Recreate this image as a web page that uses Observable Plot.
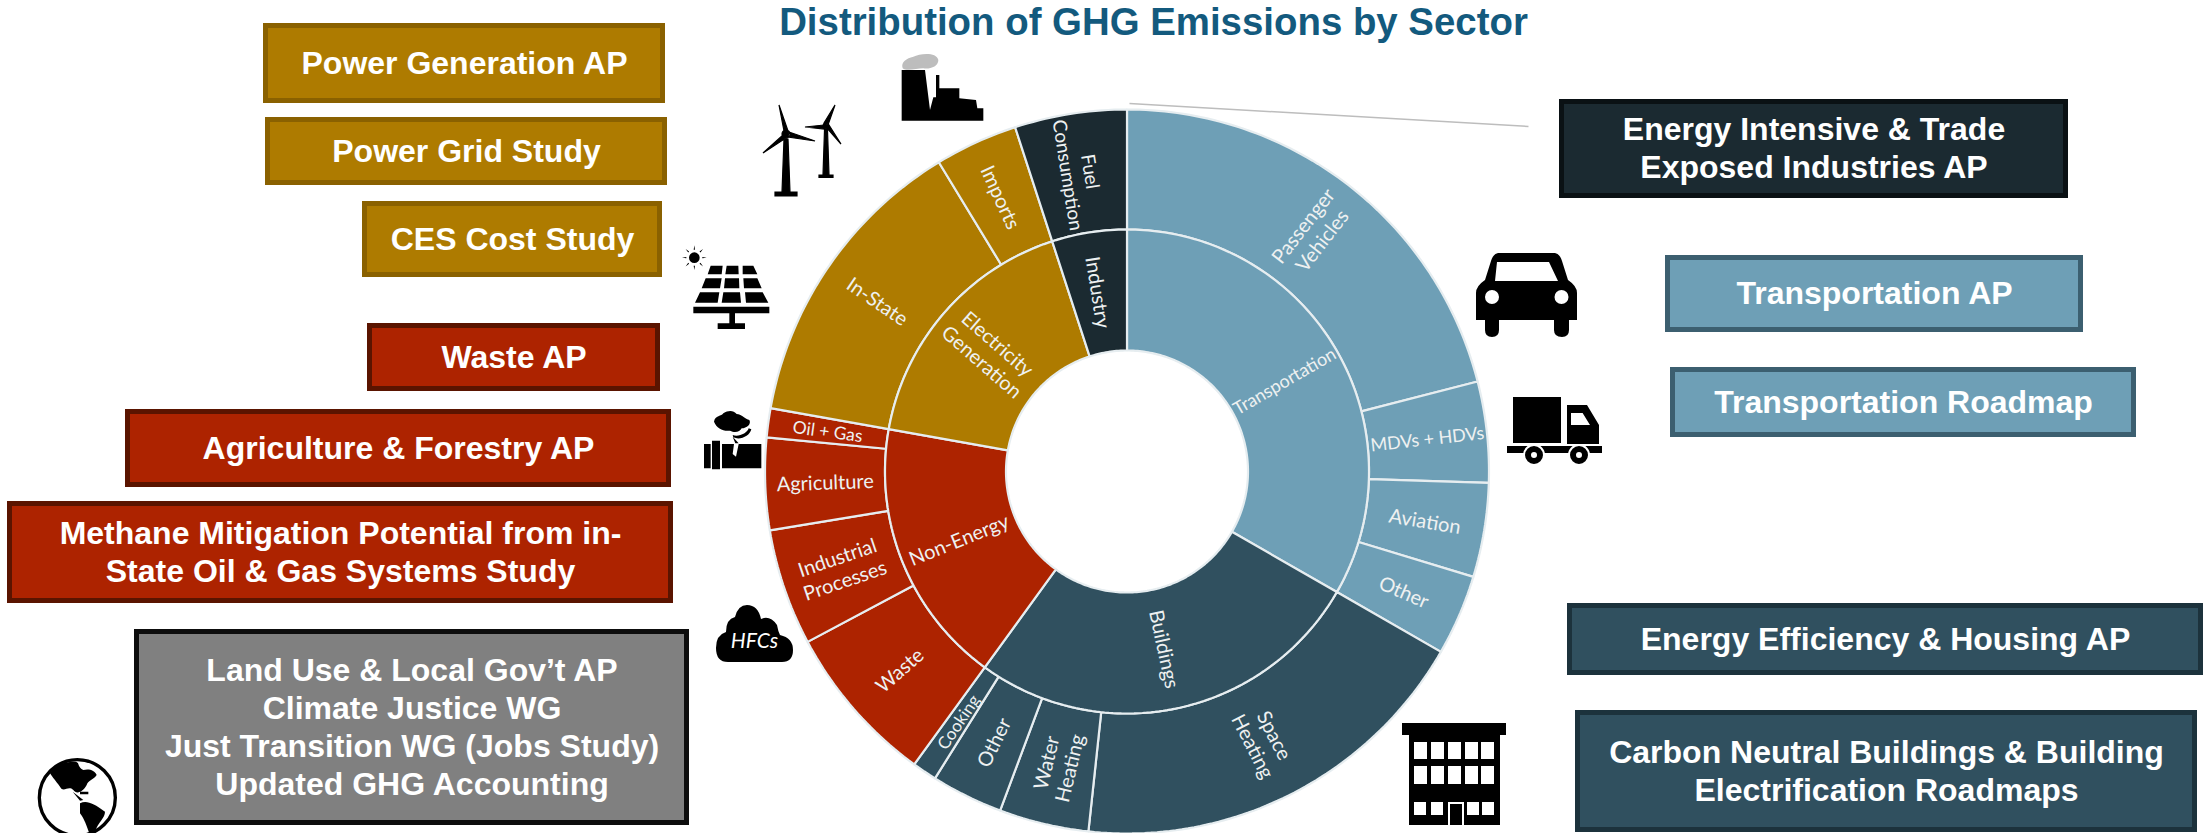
<!DOCTYPE html>
<html><head><meta charset="utf-8">
<script src="https://cdn.jsdelivr.net/npm/d3@7"></script>
<script src="https://cdn.jsdelivr.net/npm/@observablehq/plot@0.6"></script>
<style>html,body{margin:0;padding:0;background:#fff;overflow:hidden}svg{display:block}</style>
</head><body><div id="chart"></div>
<script>
// ---------- Data: share of GHG emissions (percent) ----------
const sectorNames = ["Transportation", "Buildings", "Non-Energy", "Electricity\nGeneration", "Industry"];
const transportNames = ["Passenger\nVehicles", "MDVs + HDVs", "Aviation", "Other"];
const transportValues = [21.0, 4.5, 4.2, 3.6];
const buildingNames = ["Space\nHeating", "Water\nHeating", "Other", "Cooking"];
const buildingValues = [18.4, 4.0, 3.2, 1.1];
const nonEnergyNames = ["Waste", "Industrial\nProcesses", "Agriculture", "Oil + Gas"];
const nonEnergyValues = [7.2, 5.2, 4.1, 1.3];
const electricityNames = ["In-State", "Imports"];
const electricityValues = [13.5, 3.7];
const industryNames = ["Fuel\nConsumption"];
const industryValues = [5.0];
const labelSizeOverrides = new Map([["MDVs + HDVs", 18], ["Oil + Gas", 17.5], ["Cooking", 17], ["Transportation", 18], ["Fuel\nConsumption", 19]]);

// ---------- Colours ----------
const sectorColors = ["#6e9fb6", "#30505f", "#ad2300", "#ae7b00", "#1b2a31"];
const separatorColor = "#e6edf0";
const ringLabelColor = "#eef1f1";

// ---------- Action-plan boxes ----------
const boxLabels = [
  "Power Generation AP", "Power Grid Study", "CES Cost Study", "Waste AP", "Agriculture & Forestry AP",
  "Methane Mitigation Potential from in-\nState Oil & Gas Systems Study",
  "Land Use & Local Gov’t AP\nClimate Justice WG\nJust Transition WG (Jobs Study)\nUpdated GHG Accounting",
  "Energy Intensive & Trade\nExposed Industries AP", "Transportation AP", "Transportation Roadmap",
  "Energy Efficiency & Housing AP", "Carbon Neutral Buildings & Building\nElectrification Roadmaps"
];
const boxFills = ["#ae7b00","#ae7b00","#ae7b00","#ad2300","#ad2300","#ad2300","#808080","#1b2a31","#6e9fb6","#6e9fb6","#30505f","#30505f"];
const boxBorders = ["#8a6100","#8a6100","#8a6100","#5a1400","#5a1400","#5a1400","#0d0d0d","#0a1114","#3c5f70","#3c5f70","#1c323c","#1c323c"];

// ---------- Layout (canvas is addressed in pixels) ----------
const W = 2203, H = 833, CX = 1126.5, CY = 471;
const R0 = 121, R1 = 242, R2 = 362;
const boxFrames = [
  [263,665,23,103],[265,667,117,185],[362,662,201,277],[367,660,323,391],[125,671,409,487],
  [7,673,501,603],[134,689,629,825],[1559,2068,99,198],[1665,2083,255,332],[1670,2136,367,437],
  [1567,2203,603,675],[1575,2197,710,832]
];
const boxes = boxLabels.map((label, i) => ({
  label, fill: boxFills[i], stroke: boxBorders[i],
  x1: boxFrames[i][0], x2: boxFrames[i][1], y1: boxFrames[i][2], y2: boxFrames[i][3]
}));

// ---------- Sunburst geometry from the values ----------
const groups = [
  [transportNames, transportValues], [buildingNames, buildingValues],
  [nonEnergyNames, nonEnergyValues], [electricityNames, electricityValues], [industryNames, industryValues]
];
const deg = v => v * 3.6;
const polar = (a, r) => ({x: CX + r * Math.sin(a * Math.PI / 180), y: CY - r * Math.cos(a * Math.PI / 180)});
function wedge(id, a0, a1, r0, r1, color) {
  const n = Math.max(2, Math.ceil(a1 - a0));
  const outer = d3.range(n + 1).map(i => polar(a0 + (a1 - a0) * i / n, r1));
  const inner = d3.range(n, -1, -1).map(i => polar(a0 + (a1 - a0) * i / n, r0));
  return [...outer, ...inner, outer[0]].map(p => ({...p, id, color}));
}
function ringLabel(text, a0, a1, r0, r1) {
  const mid = (a0 + a1) / 2, p = polar(mid, (r0 + r1) / 2);
  let rotate = mid - 90;
  if (mid > 180) rotate = mid - 270;
  return {...p, text, rotate, size: labelSizeOverrides.get(text) ?? 20};
}
const polygons = [], ringLabels = [];
let angle = 0;
groups.forEach(([names, values], g) => {
  const a0 = angle;
  values.forEach((v, i) => {
    const a1 = angle + deg(v);
    polygons.push(...wedge(`${g}-${i}`, angle, a1, R1, R2, sectorColors[g]));
    ringLabels.push(ringLabel(names[i], angle, a1, R1, R2));
    angle = a1;
  });
  polygons.push(...wedge(`${g}`, a0, angle, R0, R1, sectorColors[g]));
  ringLabels.push(ringLabel(sectorNames[g], a0, angle, R0, R1));
});

// ---------- Pictograms, each in its own local coordinates ----------
const rect = (x, y, w, h) => `M${x} ${y}h${w}v${h}h${-w}Z`;
const ellipse = (x, y, rx, ry) => `M${x - rx} ${y}a${rx} ${ry} 0 1 0 ${2 * rx} 0a${rx} ${ry} 0 1 0 ${-2 * rx} 0Z`;
const buildingWindows = [12, 29, 46, 63, 79].flatMap(x => [rect(x, 19, 13, 17), rect(x, 43, 13, 18)]).join("")
  + [12, 29, 65, 80].map(x => rect(x, 79, 12, 13)).join("");
const sunRays = d3.range(8).map(i => {
  const a = i * Math.PI / 4, s = Math.sin(a), c = Math.cos(a);
  return `M${73 + 24 * s - 2 * c} ${68 - 24 * c - 2 * s}L${73 + 37 * s} ${68 - 37 * c}L${73 + 24 * s + 2 * c} ${68 - 24 * c + 2 * s}Z`;
}).join("");
const icons = [
  {x: 762, y: 103, sx: 1, sy: 1, parts: [{d:
    "M22 28L17 2L26 28ZM27 29L53 38L26 34ZM21 32L1 50L24 35Z" + ellipse(24, 31, 4, 4) +
    "M22 36L26 36L28 89L35 89L35 93L13 93L13 89L20 89Z" +
    "M62 20L73 2L66 22ZM62 22L43 24L62 26ZM65 25L79 41L67 22Z" + ellipse(64, 23, 3, 3) +
    "M62.5 27L65.5 27L67 72L71 72L71 74.5L57 74.5L57 72L61 72Z", stroke: "#000", strokeWidth: 1.2}]},
  {x: 880, y: 40, sx: 1/3, sy: 1/3, parts: [
    {d: "M65 242L65 90L135 90L150 210L160 172L168 172L168 105L178 105L178 145L238 145L238 175L288 180L292 205L310 205L310 242Z"},
    {d: "M68 85C62 65 80 55 100 50C120 40 170 35 175 60C175 80 150 88 130 85C110 85 80 95 68 85Z", fill: "#bdbdbd"}]},
  {x: 670, y: 235, sx: 1/3, sy: 1/3, parts: [{d:
    ellipse(73, 68, 16, 16) + sunRays +
    "M122 92L158 92L155 118L113 118ZM170 92L205 92L206 118L166 118ZM218 92L250 92L262 118L218 118Z" +
    "M107 130L155 130L150 160L95 160ZM165 130L207 130L208 160L162 160ZM220 130L262 130L275 160L222 160Z" +
    "M90 172L148 172L143 203L75 203ZM160 172L210 172L213 203L155 203ZM225 172L278 172L295 203L228 203Z" +
    rect(70, 215, 228, 20) + rect(178, 235, 17, 30) + rect(143, 265, 82, 17)}]},
  {x: 690, y: 400, sx: 1/3, sy: 1/3, parts: [{d:
    rect(42, 132, 20, 73) + rect(66, 122, 24, 86) +
    "M96 132H132L128 162L138 170L146 132H214V205H96Z" +
    "M72 65C75 45 95 50 100 40C115 30 130 30 140 42C155 42 160 55 178 60C185 72 170 85 155 85C150 95 135 100 120 92C100 95 80 85 72 65Z" +
    "M128 105C145 112 172 100 176 85L184 88C180 108 150 122 130 112ZM128 110L146 130L136 130Z"}]},
  {x: 716, y: 605, sx: 1, sy: 1, parts: [{d:
    "M12 57Q0 57 0 43Q0 30 10 27Q10 14 19 12Q22 0 31 0Q42 0 45 14Q54 10 61 20Q62 26 64 30Q77 33 77 45Q77 57 66 57Z"}]},
  {x: 30, y: 750, sx: 1/3, sy: 1/3, parts: [
    {d: ellipse(142, 143, 114, 114), fill: "#fff", stroke: "#000", strokeWidth: 10},
    {d: "M60 70C80 40 110 35 135 35C150 35 140 50 160 60C175 55 195 60 200 75C190 90 175 90 170 105C160 125 140 135 130 120C115 105 100 130 90 110C75 90 70 85 60 70Z" +
        "M128 125L160 150L150 152ZM150 125h25v8h-25Z" +
        "M150 160C170 150 190 160 225 185C225 205 205 215 195 245L180 255C170 230 165 210 150 190Z"}]},
  {x: 1476, y: 253, sx: 1, sy: 1, parts: [{rule: "evenodd", d:
    "M22 0H79Q84 1 86 8L92 27Q101 33 101 40V67H93V77Q93 84 86 84Q78 84 78 77V67H23V77Q23 84 16 84Q9 84 9 77V67H0V40Q0 33 9 27L15 8Q17 1 22 0Z" +
    "M21 9L73 9L82 28L19 28Z" + ellipse(16, 44, 7, 7) + ellipse(85.5, 44, 7, 7)}]},
  {x: 1507, y: 397, sx: 1, sy: 1, parts: [
    {rule: "evenodd", d: rect(6, 0, 48, 46) + "M60 8H80L92 28V47H60ZM64 16V28H83L75.6 16Z" + rect(0, 49, 95, 7)},
    {d: ellipse(27, 58, 11, 11) + ellipse(72, 58, 11, 11), fill: "#fff"},
    {rule: "evenodd", d: ellipse(27, 58, 9, 9) + ellipse(27, 58, 3, 3) + ellipse(72, 58, 9, 9) + ellipse(72, 58, 3, 3)}]},
  {x: 1402, y: 723, sx: 1, sy: 1, parts: [{rule: "evenodd", d:
    rect(0, 0, 104, 12) + rect(7, 12, 91, 90) + buildingWindows + rect(46, 79, 16, 23) + rect(48, 81, 12, 21)}]}
];
const pictograms = (index, {x, y}) => {
  const g = d3.create("svg:g");
  for (const icon of icons) {
    const ig = g.append("g").attr("transform", `translate(${x(icon.x)},${y(icon.y)}) scale(${icon.sx},${icon.sy})`);
    for (const p of icon.parts) {
      ig.append("path").attr("d", p.d).attr("fill-rule", p.rule || "nonzero").attr("fill", p.fill || "#000")
        .attr("stroke", p.stroke || "none").attr("stroke-width", p.strokeWidth || 0);
    }
  }
  return g.node();
};

// ---------- Chart ----------
const chart = Plot.plot({
  width: W, height: H, margin: 0,
  x: {domain: [0, W], range: [0, W], axis: null},
  y: {domain: [0, H], range: [0, H], axis: null},
  color: {type: "identity"},
  marks: [
    Plot.line(polygons, {x: "x", y: "y", z: "id", fill: "color", stroke: separatorColor, strokeWidth: 2.2, strokeLinejoin: "miter"}),
    Plot.text(ringLabels, {x: "x", y: "y", text: "text", rotate: "rotate", fontSize: "size", fill: ringLabelColor,
      fontFamily: "Lato", lineHeight: 1.2, lineAnchor: "middle", textAnchor: "middle"}),
    Plot.link([{x1: 1129, y1: 103, x2: 1528, y2: 126}], {x1: "x1", y1: "y1", x2: "x2", y2: "y2", stroke: "#bdbdbd", strokeWidth: 1.5}),
    Plot.rect(boxes, {x1: "x1", x2: "x2", y1: "y1", y2: "y2", fill: "fill", stroke: "stroke", strokeWidth: 5, inset: 2.5}),
    Plot.text(boxes, {x: d => (d.x1 + d.x2) / 2, y: d => (d.y1 + d.y2) / 2, dy: -2, text: "label", fill: "#fff",
      fontFamily: "Liberation Sans", fontWeight: "bold", fontSize: 32, lineHeight: 1.19, lineAnchor: "middle", textAnchor: "middle"}),
    pictograms,
    Plot.text(["HFCs"], {x: () => 754, y: () => 641, text: d => d, fill: "#fff", fontFamily: "Lato", fontStyle: "italic", fontSize: 21, lineAnchor: "middle"}),
    Plot.text(["Distribution of GHG Emissions by Sector"], {x: () => 1153, y: () => 22, text: d => d, fill: "#135a7e",
      fontFamily: "Liberation Sans", fontWeight: "bold", fontSize: 38.4, lineAnchor: "middle"})
  ]
});
document.getElementById("chart").append(chart);
</script></body></html>
